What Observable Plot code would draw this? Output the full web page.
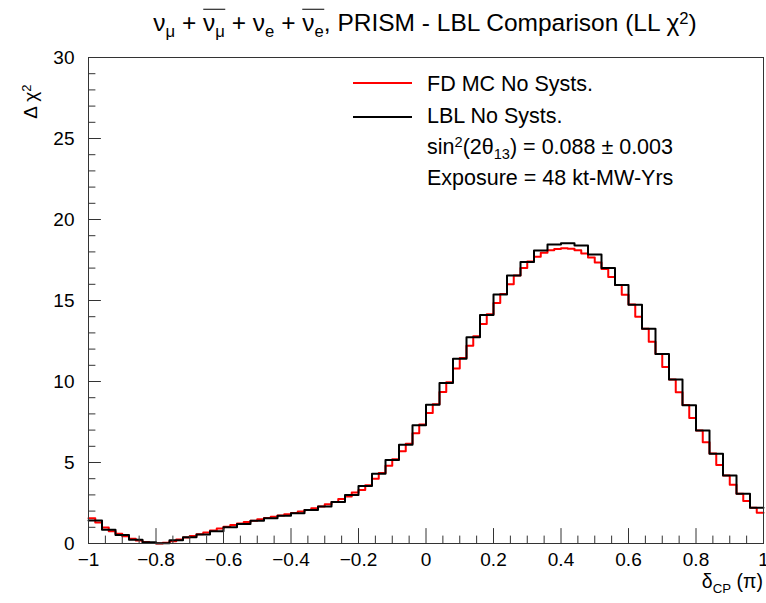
<!DOCTYPE html>
<html><head><meta charset="utf-8">
<script src="https://cdn.jsdelivr.net/npm/d3@7"></script>
<script src="https://cdn.jsdelivr.net/npm/@observablehq/plot@0.6"></script>
<style>
body{margin:0;background:#fff;}
#wrap{position:relative;width:766px;height:603px;font-family:"Liberation Sans",Arial,Helvetica,sans-serif;color:#000;overflow:hidden;}
#wrap svg{position:absolute;left:0;top:0;}
.ov{position:absolute;white-space:nowrap;line-height:1;}
.sb{font-size:68%;position:relative;top:0.35em;}
.sp{font-size:68%;position:relative;top:-0.45em;}
.ol{display:inline-block;border-top:1.3px solid #000;padding-top:1px;line-height:1;}
</style></head><body><div id="wrap"></div>
<script>
// Black: LBL No Systs. (50 bins over [-1,1])
const lblNoSysts = [1.42,0.85,0.53,0.23,0.07,0.02,0.20,0.39,0.55,0.76,
  1.00,1.20,1.40,1.56,1.72,1.87,2.07,2.28,2.56,3.00,
  3.55,4.30,5.15,6.10,7.30,8.56,9.90,11.40,12.73,14.10,
  15.37,16.54,17.37,18.09,18.46,18.54,18.40,17.84,17.00,15.95,
  14.73,13.25,11.69,10.12,8.54,6.98,5.54,4.20,3.07,2.20];
// Red: FD MC No Systs. (100 bins over [-1,1])
const fdMcNoSysts = [1.56,1.30,0.98,0.76,0.60,0.44,0.30,0.18,0.09,0.03,
  0.00,0.04,0.14,0.25,0.37,0.47,0.57,0.68,0.80,0.92,
  1.04,1.14,1.23,1.32,1.41,1.50,1.57,1.65,1.73,1.81,
  1.88,1.98,2.07,2.18,2.28,2.42,2.56,2.75,2.90,3.15,
  3.30,3.60,4.00,4.35,4.80,5.20,5.70,6.15,6.80,7.35,
  8.05,8.60,9.35,9.95,10.80,11.45,12.20,12.80,13.55,14.15,
  14.85,15.40,16.00,16.55,17.00,17.40,17.70,17.95,18.10,18.18,
  18.22,18.20,18.10,17.90,17.65,17.35,16.95,16.45,15.95,15.35,
  14.75,14.00,13.25,12.45,11.70,10.90,10.12,9.33,8.55,7.75,
  6.98,6.25,5.55,4.85,4.20,3.62,3.07,2.62,2.20,1.90];
const xRange = [-1, 1];
const yRange = [0, 30];
const xMajor = [-1,-0.8,-0.6,-0.4,-0.2,0,0.2,0.4,0.6,0.8,1];
const xMinor = [-0.95,-0.9,-0.85,-0.75,-0.7,-0.65,-0.55,-0.5,-0.45,-0.35,-0.3,-0.25,-0.15,-0.1,-0.05,
  0.05,0.1,0.15,0.25,0.3,0.35,0.45,0.5,0.55,0.65,0.7,0.75,0.85,0.9,0.95];
const yMajor = [0,5,10,15,20,25,30];
const yMinor = [1,2,3,4,6,7,8,9,11,12,13,14,16,17,18,19,21,22,23,24,26,27,28,29];

function histPoints(vals, range){
  const w = (range[1]-range[0])/vals.length;
  const pts = vals.map((v,i)=>({x: range[0]+i*w, y: v}));
  pts.push({x: range[1], y: vals[vals.length-1]});
  return pts;
}
const tickShape = {draw(ctx, l){ ctx.moveTo(0,0); ctx.lineTo(0,-l); }};
const axisCol = "#333";

const chart = Plot.plot({
  width: 766, height: 603,
  marginLeft: 88, marginRight: 3, marginTop: 57, marginBottom: 60,
  x: {domain: xRange},
  y: {domain: yRange},
  style: {fontFamily: "'Liberation Sans', Arial, Helvetica, sans-serif", fontSize: "19px", background: "transparent", color: "#000"},
  marks: [
    Plot.line(histPoints(fdMcNoSysts, xRange), {x: "x", y: "y", curve: "step-after", stroke: "#ff0000", strokeWidth: 2}),
    Plot.line(histPoints(lblNoSysts, xRange), {x: "x", y: "y", curve: "step-after", stroke: "#000", strokeWidth: 2}),
    Plot.frame({stroke: axisCol, strokeWidth: 1}),
    Plot.vector(xMajor, {x: d => d, y: () => yRange[0], length: 15, anchor: "start", shape: tickShape, stroke: axisCol, strokeWidth: 1}),
    Plot.vector(xMinor, {x: d => d, y: () => yRange[0], length: 7.5, anchor: "start", shape: tickShape, stroke: axisCol, strokeWidth: 1}),
    Plot.vector(yMajor, {x: () => xRange[0], y: d => d, rotate: 90, length: 12, anchor: "start", shape: tickShape, stroke: axisCol, strokeWidth: 1}),
    Plot.vector(yMinor, {x: () => xRange[0], y: d => d, rotate: 90, length: 6.5, anchor: "start", shape: tickShape, stroke: axisCol, strokeWidth: 1}),
    Plot.axisX({ticks: xMajor, tickSize: 0, tickPadding: 9, label: null, tickFormat: d3.format("~g"), fill: "#000"}),
    Plot.axisY({ticks: yMajor, tickSize: 0, tickPadding: 14, label: null, tickFormat: d3.format("~g"), fill: "#000"})
  ]
});
const wrap = document.getElementById("wrap");
wrap.appendChild(chart);

function ov(html, css){
  const d = document.createElement("div");
  d.className = "ov";
  d.innerHTML = html;
  Object.assign(d.style, css);
  wrap.appendChild(d);
  return d;
}
// Title
ov('ν<span class="sb">μ</span> + <span class="ol">ν<span class="sb">μ</span></span> + ν<span class="sb">e</span> + <span class="ol">ν<span class="sb">e</span></span>, PRISM - LBL Comparison (LL χ<span class="sp">2</span>)',
   {left: "425px", top: "22px", transform: "translate(-50%,-50%)", fontSize: "24.5px"});
// Legend
ov('', {left: "353px", top: "82px", width: "59px", height: "0px", borderTop: "2px solid #ff0000"});
ov('FD MC No Systs.', {left: "427px", top: "85px", transform: "translateY(-50%)", fontSize: "21.5px"});
ov('', {left: "353px", top: "116px", width: "59px", height: "0px", borderTop: "2px solid #000"});
ov('LBL No Systs.', {left: "427px", top: "117px", transform: "translateY(-50%)", fontSize: "21.5px"});
ov('sin<span class="sp">2</span>(2θ<span class="sb">13</span>) = 0.088 ± 0.003', {left: "427px", top: "148px", transform: "translateY(-50%)", fontSize: "21.5px"});
ov('Exposure = 48 kt-MW-Yrs', {left: "427px", top: "179px", transform: "translateY(-50%)", fontSize: "21.5px"});
// Axis titles
ov('δ<span class="sb">CP</span> (π)', {right: "3px", top: "582px", transform: "translateY(-50%)", fontSize: "19.5px"});
ov('Δ χ<span class="sp">2</span>', {left: "30px", top: "58px", transform: "translate(-50%,0) rotate(-90deg) translate(-100%,0)", transformOrigin: "50% 50%", fontSize: "19px"});
</script></body></html>
